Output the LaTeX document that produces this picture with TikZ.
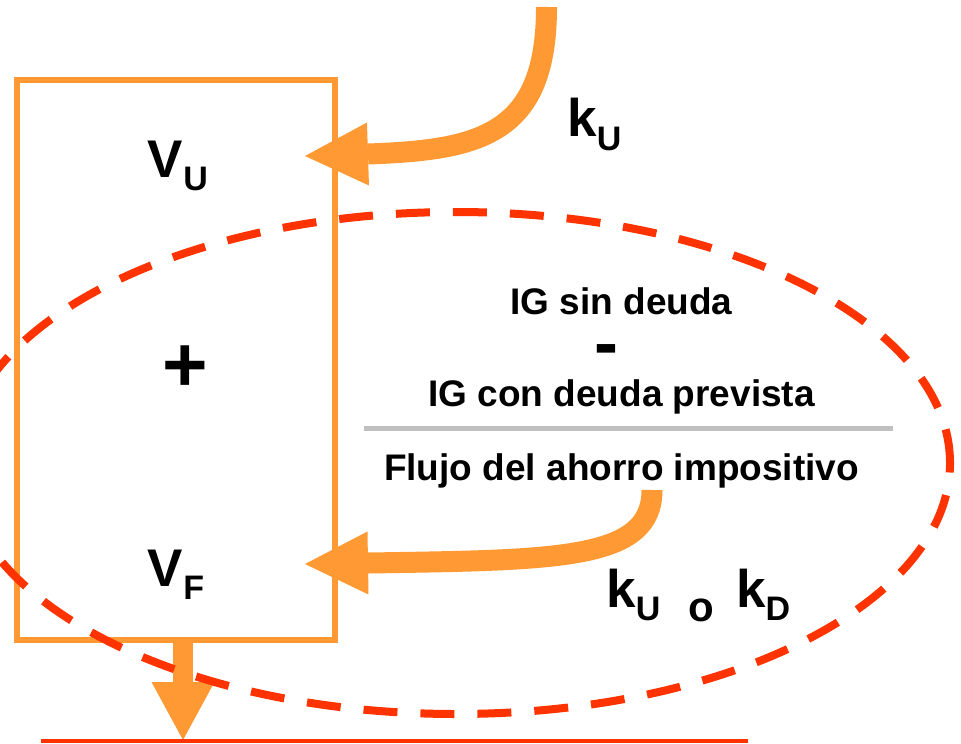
\documentclass[tikz,border=0pt]{standalone}
\usepackage{fontspec}
\setmainfont{Liberation Sans}
\usepackage{xcolor}
\usepackage{tikz}
\usetikzlibrary{shapes.geometric,arrows.meta,positioning}
\definecolor{flowor}{HTML}{FF9933}
\definecolor{ringred}{HTML}{FF3300}
\definecolor{rulegray}{HTML}{C0C0C0}
\newcommand{\lowidx}[1]{\raisebox{-6.8pt}{\fontsize{17}{17}\selectfont #1}}

\begin{document}
\begin{tikzpicture}[x=0.5pt, y=-0.5pt,
  frame/.style={draw=flowor, line width=3pt, minimum width=159pt, minimum height=279.75pt, inner sep=0pt},
  ring/.style={ellipse, draw=ringred, line width=4pt, dash pattern=on 17pt off 11.5pt,
               minimum width=494pt, minimum height=251pt, inner sep=0pt},
  flow/.style={-{Triangle[length=31.5pt, width=31.5pt, line width=0pt]}, color=flowor, line width=10.5pt},
  big/.style={font=\fontsize{26.5}{26.5}\selectfont\bfseries, inner sep=0pt, anchor=base west},
  txt/.style={font=\fontsize{18.5}{18.5}\selectfont\bfseries, inner sep=0pt, anchor=base}
]
\clip (0,0) rectangle (961,743);

% value box
\node[frame] (firm) at (176,360.25) {};
\node[big] (vu) at (147.5,177) {V\lowidx{U}};
\node[inner sep=0pt, font=\fontsize{39}{39}\selectfont\bfseries, anchor=base] (plus) at (185.5,391) {+};
\node[big] (vf) at (147.5,586) {V\lowidx{F}};

% tax shield text
\node[txt] (sin) at (621.5,314) {IG sin deuda};
\node[inner sep=0pt, font=\fontsize{36}{36}\selectfont\bfseries, anchor=base] (minus) at (606,367) {-};
\node[txt] (con) at (621.5,406) {IG con deuda prevista};
\draw[rulegray, line width=2.5pt] (364,428) -- (893,428);
\node[txt] (flujo) at (621.5,480) {Flujo del ahorro impositivo};

% discount rates
\node[big] (ku) at (567,137) {k\lowidx{U}};
\node[big] (kuokd) at (606,607) {k\lowidx{U}\hspace{14pt}\raisebox{-7pt}{\fontsize{21}{21}\selectfont o}\hspace{11pt}k\lowidx{D}};

% flows
\coordinate (kin) at (546.5,7);
\coordinate (vuin) at (305,156);
\coordinate (fin) at (652,490);
\coordinate (vfin) at (305,564);
\coordinate (out) at (183,740);
\draw[flow] (kin) .. controls (546.5,135) and (480,150) .. (368,154) -- (vuin);
\draw[flow] (fin) .. controls (652,560) and (560,560) .. (368,563) -- (vfin);
\draw[flow, -{Triangle[length=29pt, width=31.5pt, line width=0pt]}, line width=10pt] ([xshift=3.5pt]firm.south) -- (out);
\draw[ringred, line width=2pt] (41,741) -- (748,741);

\node[ring] (ring) at (456,463) {};
\end{tikzpicture}
\end{document}
